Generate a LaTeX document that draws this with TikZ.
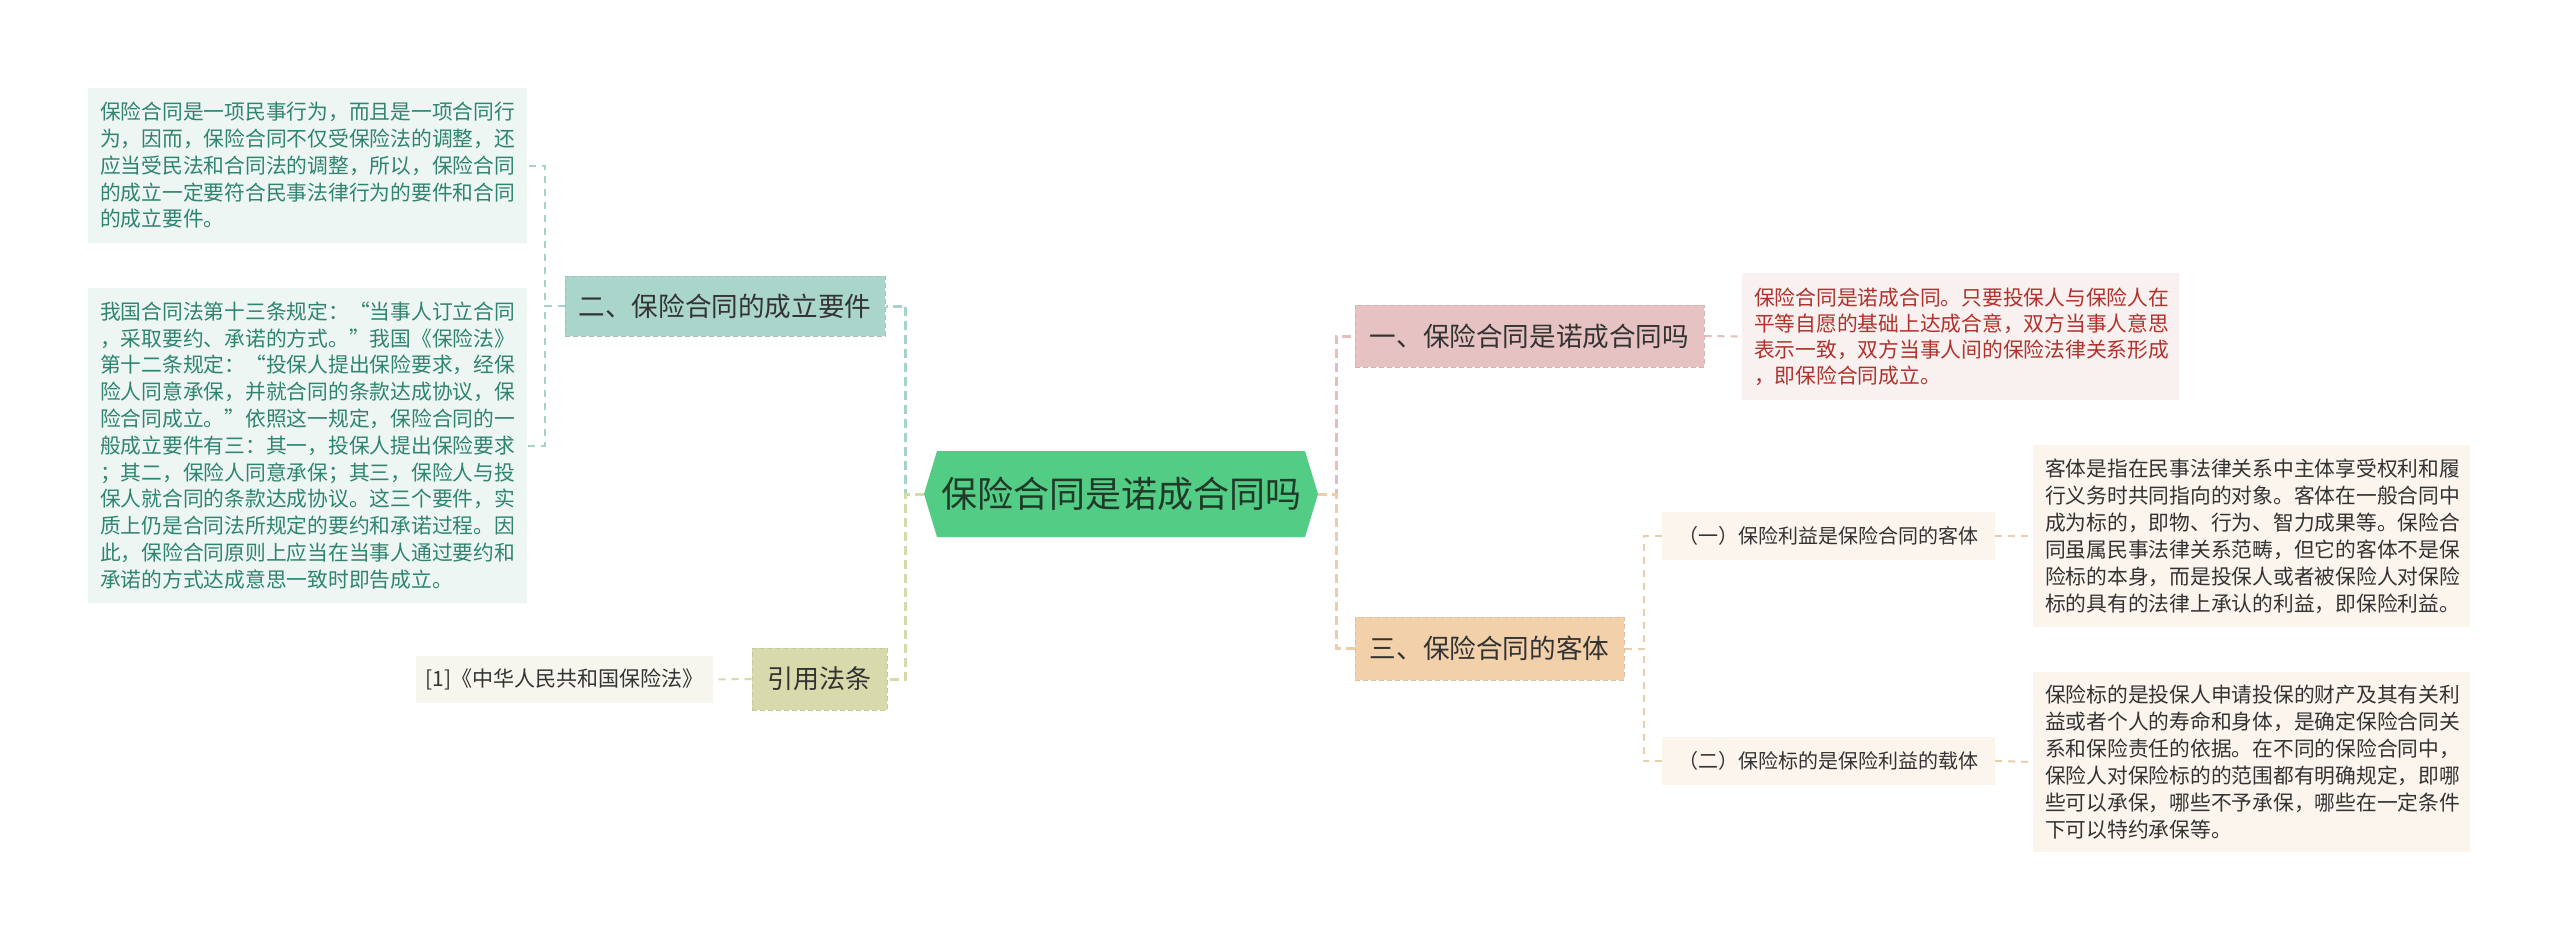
\documentclass[tikz,border=0pt]{standalone}
\usepackage{fontspec}
\setmainfont{Noto Sans CJK SC}
\usetikzlibrary{calc}
\definecolor{tealfill}{HTML}{EDF6F3}
\definecolor{tealtext}{HTML}{2F8470}
\definecolor{tealnode}{HTML}{A9D5CB}
\definecolor{tealline}{HTML}{A6D3C9}
\definecolor{pinkfill}{HTML}{F9F0F0}
\definecolor{pinknode}{HTML}{E6C2C2}
\definecolor{pinkline}{HTML}{E6BDBD}
\definecolor{redtext}{HTML}{B0322C}
\definecolor{tanfill}{HTML}{FCF5EE}
\definecolor{tannode}{HTML}{F1D0AA}
\definecolor{tanline}{HTML}{EBCDAA}
\definecolor{olivefill}{HTML}{F6F6EE}
\definecolor{olivenode}{HTML}{D8DAAC}
\definecolor{oliveline}{HTML}{D6D9A9}
\definecolor{hexfill}{HTML}{53CC85}
\definecolor{hextext}{HTML}{1F3A27}
\definecolor{darktext}{HTML}{333333}
\tikzset{
  fs/.style 2 args={font=\fontsize{#1}{#2}\selectfont},
  txtbox/.style={inner xsep=12pt, inner ysep=0pt, align=left, fs={20.75}{26.8}},
  branch/.style={inner sep=0pt, align=center, fs={26.6}{30}, text=darktext, draw=#1, dashed, line width=1pt, dash pattern=on 5pt off 3pt},
  leaf/.style={inner sep=0pt, align=center, fs={20}{24}, text=darktext},
  mainline/.style={draw=#1, line width=3pt, dash pattern=on 9pt off 5pt},
  subline/.style={draw=#1, line width=2pt, dash pattern=on 7pt off 6pt},
}
\begin{document}
\begin{tikzpicture}[x=1pt,y=-1pt]
\useasboundingbox (0,0) rectangle (2560,942);
\fill[white] (0,0) rectangle (2560,942);

% central hexagon
\fill[hexfill] (924,494) -- (937,451) -- (1305,451) -- (1318,494) -- (1305,537) -- (937,537) -- cycle;
\node[inner sep=0pt, minimum width=394pt, minimum height=86pt, fs={36}{40}, text=hextext] (hex) at (1121,494) {保险合同是诺成合同吗};

% first level
\node[branch=tealnode!92!black, fill=tealnode, minimum width=320pt, minimum height=60pt] (n2) at (725,306) {二、保险合同的成立要件};
\node[branch=olivenode!92!black, fill=olivenode, minimum width=135pt, minimum height=62pt, fs={26}{30}] (cite) at (819.5,679) {引用法条};
\node[branch=pinknode!92!black, fill=pinknode, minimum width=349pt, minimum height=62pt] (n1) at (1529.5,336) {一、保险合同是诺成合同吗};
\node[branch=tannode!92!black, fill=tannode, minimum width=269pt, minimum height=63pt] (n3) at (1489.5,648.5) {三、保险合同的客体};

% left leaves
\node[txtbox, fill=tealfill, text=tealtext, text width=415pt, minimum height=155pt] (tA) at (307.5,165.5) {保险合同是一项民事行为，而且是一项合同行\\为，因而，保险合同不仅受保险法的调整，还\\应当受民法和合同法的调整，所以，保险合同\\的成立一定要符合民事法律行为的要件和合同\\的成立要件。};
\node[txtbox, fill=tealfill, text=tealtext, text width=415pt, minimum height=315pt] (tB) at (307.5,445.5) {我国合同法第十三条规定：“当事人订立合同\\，采取要约、承诺的方式。”我国《保险法》\\第十二条规定：“投保人提出保险要求，经保\\险人同意承保，并就合同的条款达成协议，保\\险合同成立。”依照这一规定，保险合同的一\\般成立要件有三：其一，投保人提出保险要求\\；其二，保险人同意承保；其三，保险人与投\\保人就合同的条款达成协议。这三个要件，实\\质上仍是合同法所规定的要约和承诺过程。因\\此，保险合同原则上应当在当事人通过要约和\\承诺的方式达成意思一致时即告成立。};
\node[leaf, fill=olivefill, minimum width=297pt, minimum height=47pt, fs={21}{24}] (ref) at (564.5,679.5) {[1]《中华人民共和国保险法》};

% right leaves
\node[txtbox, fill=pinkfill, text=redtext, text width=413pt, minimum height=127pt, fs={20.75}{26}] (tR) at (1960.5,336.5) {保险合同是诺成合同。只要投保人与保险人在\\平等自愿的基础上达成合意，双方当事人意思\\表示一致，双方当事人间的保险法律关系形成\\，即保险合同成立。};
\node[leaf, fill=tanfill, minimum width=333pt, minimum height=48pt] (s1) at (1828.5,536) {（一）保险利益是保险合同的客体};
\node[leaf, fill=tanfill, minimum width=333pt, minimum height=48pt] (s2) at (1828.5,761) {（二）保险标的是保险利益的载体};
\node[txtbox, fill=tanfill, text=darktext, text width=413pt, minimum height=182pt, fs={20.75}{27}] (tC) at (2251.5,536) {客体是指在民事法律关系中主体享受权利和履\\行义务时共同指向的对象。客体在一般合同中\\成为标的，即物、行为、智力成果等。保险合\\同虽属民事法律关系范畴，但它的客体不是保\\险标的本身，而是投保人或者被保险人对保险\\标的具有的法律上承认的利益，即保险利益。};
\node[txtbox, fill=tanfill, text=darktext, text width=413pt, minimum height=180pt, fs={20.75}{27}] (tD) at (2251.5,762) {保险标的是投保人申请投保的财产及其有关利\\益或者个人的寿命和身体，是确定保险合同关\\系和保险责任的依据。在不同的保险合同中，\\保险人对保险标的的范围都有明确规定，即哪\\些可以承保，哪些不予承保，哪些在一定条件\\下可以特约承保等。};

% main connectors
\draw[mainline=tealline] (hex.west) -- ++(-18,0) |- (n2.east);
\draw[mainline=oliveline] (hex.west) -- ++(-18,0) |- (cite.east);
\draw[mainline=pinkline] (hex.east) -- ++(18,0) |- (n1.west);
\draw[mainline=tanline] (hex.east) -- ++(18,0) |- (n3.west);

% sub connectors
\draw[subline=tealline] (n2.west) -- ++(-20,0) |- (tA.east);
\draw[subline=tealline] (n2.west) -- ++(-20,0) |- (tB.east);
\draw[subline=oliveline] (cite.west) -- (ref.east);
\draw[subline=pinkline] (n1.east) -- (tR.west);
\draw[subline=tanline] (n3.east) -- ++(19,0) |- (s1.west);
\draw[subline=tanline] (n3.east) -- ++(19,0) |- (s2.west);
\draw[subline=tanline] (s1.east) -- (tC.west);
\draw[subline=tanline] (s2.east) -- (tD.west);
\end{tikzpicture}
\end{document}
